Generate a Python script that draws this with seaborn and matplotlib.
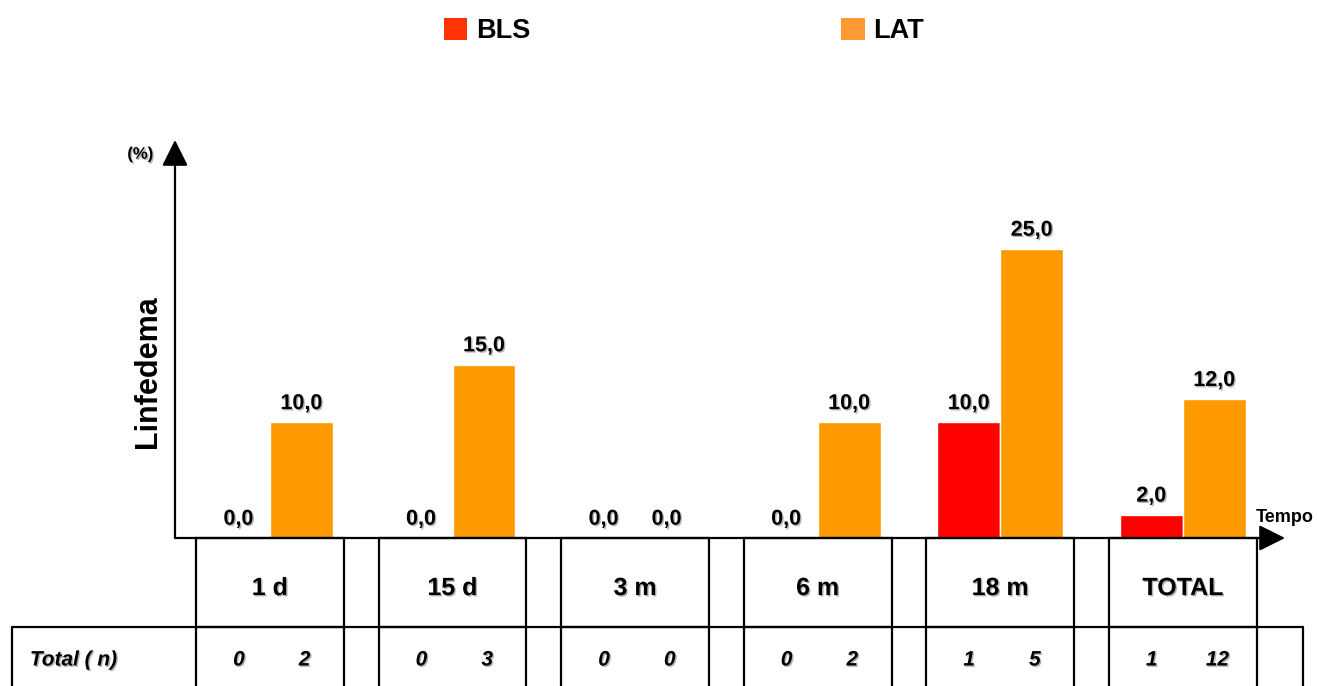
import numpy as np
import pandas as pd
import matplotlib
matplotlib.use('Agg')
import matplotlib.pyplot as plt
import matplotlib.patheffects as pe
from matplotlib.patches import Patch, Rectangle
import seaborn as sns

tempos = ['1 d', '15 d', '3 m', '6 m', '18 m', 'TOTAL']
bls_pct = [0.0, 0.0, 0.0, 0.0, 10.0, 2.0]
lat_pct = [10.0, 15.0, 0.0, 10.0, 25.0, 12.0]
bls_n = [0, 0, 0, 0, 1, 1]
lat_n = [2, 3, 0, 2, 5, 12]

BAR_COLORS = {'BLS': '#FF0000', 'LAT': '#FF9900'}
LEG_COLORS = {'BLS': '#FF3300', 'LAT': '#FF9933'}

df = pd.DataFrame({
    'tempo': tempos * 2,
    'grupo': ['BLS'] * len(tempos) + ['LAT'] * len(tempos),
    'pct': bls_pct + lat_pct,
})

sns.set_style('white')
plt.rcParams['font.family'] = ['Liberation Sans', 'DejaVu Sans']
plt.rcParams['font.weight'] = 'bold'
plt.rcParams['text.color'] = 'black'

shadow = [pe.withSimplePatchShadow(offset=(1, -1), shadow_rgbFace='0.5', alpha=0.6)]

fig = plt.figure(figsize=(13.18, 6.86), dpi=100)
W, H = 1318, 686
ax = fig.add_axes([175 / W, (H - 538) / H, (1285 - 175) / W, (538 - 140) / H])

sns.barplot(data=df, x='tempo', y='pct', hue='grupo', order=tempos, hue_order=['BLS', 'LAT'],
            palette=BAR_COLORS, width=0.69, saturation=1, errorbar=None, legend=False, ax=ax)

ax.set_xlim(-0.52, 5.56)
ax.set_ylim(0, 34.43)
for s in ax.spines.values():
    s.set_visible(False)
ax.tick_params(bottom=False, left=False, labelbottom=False, labelleft=False)
ax.set_xlabel('')
ax.set_ylabel('')

# value labels
for cont in ax.containers:
    labels = [f'{b.get_height():.1f}'.replace('.', ',') for b in cont]
    txts = ax.bar_label(cont, labels=labels, padding=6, fontsize=15.5, fontweight='bold')
    for t in txts:
        t.set_path_effects(shadow)

# axis arrows
arrow = dict(arrowstyle='-|>,head_length=0.8,head_width=0.4', color='black', lw=1.6,
             mutation_scale=20, shrinkA=0, shrinkB=0)
ax.annotate('', xy=(0, 1), xytext=(0, 0), xycoords='axes fraction', arrowprops=arrow)
ax.annotate('', xy=(1, 0), xytext=(0, 0), xycoords='axes fraction', arrowprops=arrow)

ax.text(-0.71, 33.2, '(%)', ha='center', va='center', fontsize=12, fontweight='bold', path_effects=shadow)
ax.text(5.40, 1.8, 'Tempo', ha='left', va='center', fontsize=13, fontweight='bold')
ax.text(-0.67, 14.36, 'Linfedema', rotation=90, ha='center', va='center', fontsize=22, fontweight='bold')

# table below the axis
half = 0.405
lw = 1.6
y_row1, y_end = -7.70, -16
for i, lab in enumerate(tempos):
    ax.add_patch(Rectangle((i - half, y_row1), 2 * half, -y_row1, fill=False, lw=lw,
                           ec='black', clip_on=False))
    ax.text(i, -4.33, lab, ha='center', va='center', fontsize=18, fontweight='bold', path_effects=shadow)
    for xx in (i - half, i + half):
        ax.plot([xx, xx], [y_row1, y_end], color='black', lw=lw, clip_on=False)
    ax.text(i - 0.17, -10.55, str(bls_n[i]), ha='center', va='center', fontsize=15,
            fontweight='bold', style='italic', path_effects=shadow)
    ax.text(i + 0.19, -10.55, str(lat_n[i]), ha='center', va='center', fontsize=15,
            fontweight='bold', style='italic', path_effects=shadow)

ax.plot([-1.413, 5.657], [y_row1, y_row1], color='black', lw=lw, clip_on=False)
for xx in (-1.413, 5.657):
    ax.plot([xx, xx], [y_row1, y_end], color='black', lw=lw, clip_on=False)
ax.text(-1.315, -10.55, 'Total ( n)', ha='left', va='center', fontsize=15,
        fontweight='bold', style='italic', path_effects=shadow)

# legend
handles = [Patch(facecolor=LEG_COLORS[g], edgecolor='none', label=g) for g in ['BLS', 'LAT']]
fig.legend(handles=handles, loc='center', bbox_to_anchor=(684 / W, 1 - 31 / H), ncol=2,
           frameon=False, prop={'weight': 'bold', 'size': 19.5},
           handlelength=0.85, handleheight=0.85, handletextpad=0.33, columnspacing=11.5)

fig.savefig('out.png', dpi=100)
